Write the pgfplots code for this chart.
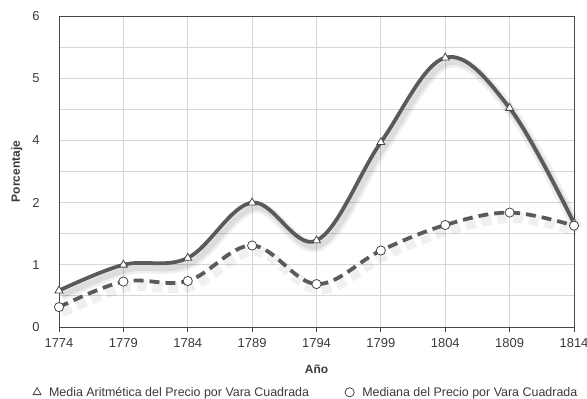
\documentclass[border=0pt]{standalone}
\usepackage{fontspec}
\setmainfont{Liberation Sans}
\usepackage{pgfplots}
\pgfplotsset{compat=1.18}
\definecolor{lineg}{HTML}{5A5A5A}
\definecolor{gridg}{HTML}{D6D6D6}
\definecolor{txtg}{HTML}{3A3A3A}
\begin{document}
\begin{tikzpicture}[x=1bp,y=1bp]
\useasboundingbox (0,0) rectangle (587,398);
\begin{axis}[
  at={(59bp,71bp)}, anchor=south west,
  scale only axis, width=515bp, height=311bp,
  xmin=1774, xmax=1814, ymin=0, ymax=5,
  xtick={1774,1779,...,1814},
  ytick={0,1,2,3,4,5},
  yticklabels={0,1,2,4,5,6},
  minor ytick={0.5,1.5,2.5,3.5,4.5},
  grid=both,
  major grid style={gridg, line width=0.9pt},
  minor grid style={gridg, line width=0.9pt},
  axis line style={draw=black!72, line width=1pt},
  tick style={black!72, line width=0.8pt},
  tick pos=left,
  xtick align=outside, ytick style={draw=none},
  minor tick length=0pt,
  major tick length=5bp,
  x tick label style={/pgf/number format/1000 sep={}, font=\fontsize{13}{14}\selectfont, text=txtg, yshift=-3bp},
  y tick label style={font=\fontsize{13}{14}\selectfont, text=txtg, xshift=-16bp},
  /pgf/number format/assume math mode=true,
  xlabel={\textbf{Año}}, ylabel={\textbf{Porcentaje}},
  xlabel style={font=\fontsize{12}{13}\selectfont, text=txtg, yshift=-10bp},
  ylabel style={font=\fontsize{12}{13}\selectfont, text=txtg, yshift=3bp},
  legend columns=2,
  legend image code/.code={\draw[mark repeat=2,mark phase=2] plot coordinates {(0cm,0cm) (0.25cm,0cm) (0.5cm,0cm)};},
  legend style={at={(0.48,-0.21)}, anchor=center, draw=none, fill=none,
    font=\fontsize{12.5}{14}\selectfont, text=txtg,
    /tikz/every even column/.append style={column sep=34bp},
    /tikz/every odd column/.append style={column sep=6bp}},
  legend cell align=left,
  clip=false,
]
% shadows
\addplot[forget plot, smooth, tension=0.6, black, opacity=0.06, line width=11pt, shift={(3bp,-5bp)}] coordinates {
(1774,0.585) (1779,1.00) (1784,1.11) (1789,2.00) (1794,1.39) (1799,2.97) (1804,4.33) (1809,3.52) (1814,1.67)};
\addplot[forget plot, smooth, tension=0.6, black, opacity=0.08, line width=6pt, shift={(3bp,-5bp)}] coordinates {
(1774,0.585) (1779,1.00) (1784,1.11) (1789,2.00) (1794,1.39) (1799,2.97) (1804,4.33) (1809,3.52) (1814,1.67)};
\addplot[forget plot, smooth, tension=0.6, black, opacity=0.06, line width=11pt, dash pattern=on 10pt off 6pt, shift={(3bp,-5bp)}] coordinates {
(1774,0.32) (1779,0.73) (1784,0.74) (1789,1.31) (1794,0.69) (1799,1.23) (1804,1.64) (1809,1.84) (1814,1.63)};
% main lines
\addplot[forget plot, smooth, tension=0.6, lineg, line width=3.8pt] coordinates {
(1774,0.585) (1779,1.00) (1784,1.11) (1789,2.00) (1794,1.39) (1799,2.97) (1804,4.33) (1809,3.52) (1814,1.67)};
\addplot[forget plot, smooth, tension=0.6, lineg, line width=3.8pt, dash pattern=on 10pt off 6pt] coordinates {
(1774,0.32) (1779,0.73) (1784,0.74) (1789,1.31) (1794,0.69) (1799,1.23) (1804,1.64) (1809,1.84) (1814,1.63)};
% markers
\addplot[only marks, mark=triangle*, mark size=4.6bp, mark options={fill=white, draw=black!72, line width=0.8pt}] coordinates {
(1774,0.585) (1779,1.00) (1784,1.11) (1789,2.00) (1794,1.39) (1799,2.97) (1804,4.33) (1809,3.52) (1814,1.67)};
\addlegendentry{Media Aritmética del Precio por Vara Cuadrada}
\addplot[only marks, mark=*, mark size=4.6bp, mark options={fill=white, draw=black!72, line width=0.8pt}] coordinates {
(1774,0.32) (1779,0.73) (1784,0.74) (1789,1.31) (1794,0.69) (1799,1.23) (1804,1.64) (1809,1.84) (1814,1.63)};
\addlegendentry{Mediana del Precio por Vara Cuadrada}
\end{axis}
\end{tikzpicture}
\end{document}
